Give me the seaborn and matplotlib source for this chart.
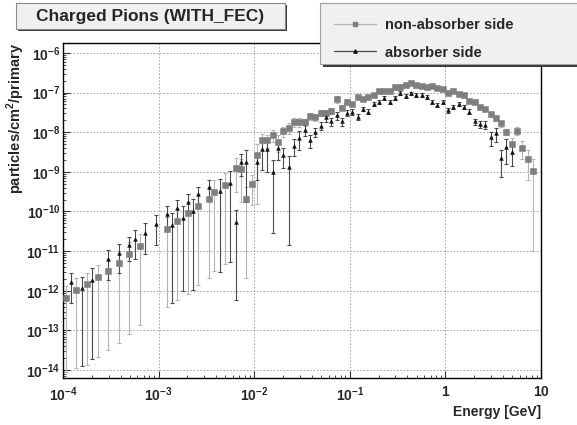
import numpy as np
import pandas as pd
import matplotlib
matplotlib.use("Agg")
import matplotlib.pyplot as plt
import matplotlib.ticker as mticker
from matplotlib.lines import Line2D
from matplotlib.patches import Rectangle
import seaborn as sns

nan = np.nan

# histogram binning: 90 log bins from 1e-4 to 10 GeV (18 per decade)
n_bins = 90
e_edges = np.logspace(-4, 1, n_bins + 1)
e_centers = np.sqrt(e_edges[:-1] * e_edges[1:])

# log10(particles/cm2/primary) per bin, nan = empty bin
nonabs_log = [
    -12.19, nan, -11.98, nan, -11.84, nan, -11.65, nan, -11.50, nan,
    -11.30, nan, -11.06, nan, -10.87, nan, nan, nan, nan, -10.43,
    nan, -10.24, nan, -10.05, nan, -9.86, nan, -9.69, -9.50, nan,
    -9.33, nan, -8.90, -8.94, -9.69, -9.31, -8.58, -8.20, -8.20, -8.07,
    -8.24, -7.97, -7.89, -7.75, -7.75, -7.75, -7.59, -7.62, -7.51, -7.52,
    -7.46, -7.17, -7.38, -7.23, -7.29, -7.12, -7.17, -7.12, -7.06, -6.95,
    -6.95, -6.95, -6.87, -6.87, -6.81, -6.77, -6.81, -6.83, -6.87, -6.83,
    -6.89, -6.92, -7.00, -6.97, -7.04, -7.06, -7.21, -7.25, -7.36, -7.41,
    -7.55, -7.65, -7.78, -7.99, -8.30, -7.96, -8.39, -8.68, -8.98, nan,
]
# lower end of the error bar (log10)
nonabs_low_log = [
    -14.05, nan, -13.95, nan, -13.88, nan, -13.67, nan, -13.50, nan,
    -13.31, nan, -13.08, nan, -12.87, nan, nan, nan, nan, -12.40,
    nan, -12.24, nan, -12.07, nan, -11.86, nan, -11.69, -11.50, nan,
    -11.33, nan, -9.50, -9.75, -11.68, -9.84, -9.81, -8.45, -8.40, -8.25,
    -8.50, -8.12, -8.05, -7.88, -7.88, -7.85, -7.68, -7.72, -7.60, -7.60,
    -7.53, -7.27, -7.45, -7.30, -7.35, -7.17, -7.22, -7.16, -7.10, -6.99,
    -6.99, -6.99, -6.91, -6.91, -6.85, -6.81, -6.85, -6.87, -6.91, -6.87,
    -6.93, -6.96, -7.04, -7.01, -7.08, -7.10, -7.26, -7.30, -7.41, -7.46,
    -7.61, -7.72, -7.86, -8.08, -8.55, -8.07, -8.68, -9.20, -11.00, nan,
]

abs_log = [
    nan, -11.79, nan, -11.94, nan, -11.73, nan, nan, -11.21, nan,
    -11.04, nan, -10.85, -10.70, nan, -10.53, nan, -10.32, nan, -10.07,
    -10.33, -9.92, -10.17, -9.75, -9.98, -9.56, nan, -9.39, nan, -9.48,
    nan, -9.27, -10.26, -8.74, -8.74, nan, -8.74, -8.43, -8.43, -9.00,
    -8.41, -8.58, -8.89, -8.34, -8.15, -7.94, -8.20, -7.99, -7.84, -7.62,
    -7.73, -7.57, -7.73, -7.52, -7.48, -7.61, -7.41, -7.48, -7.29, -7.23,
    -7.14, -7.23, -7.14, -7.00, -7.09, -7.02, -7.06, -7.06, -7.10, -7.23,
    -7.31, -7.23, -7.44, -7.36, -7.29, -7.36, -7.48, -7.73, -7.80, -7.81,
    -8.13, -8.03, -8.66, -8.38, -8.49, nan, nan, nan, nan, nan,
]
abs_low_log = [
    nan, -12.31, nan, -13.90, nan, -13.73, nan, nan, -11.73, nan,
    -11.56, nan, -11.26, -11.21, nan, -11.06, nan, -10.85, nan, -10.47,
    -12.30, -10.30, -12.00, -10.10, -11.98, -9.90, nan, -9.70, nan, -11.52,
    nan, -11.27, -12.24, -9.10, -9.75, nan, -9.20, -8.95, -9.00, -10.54,
    -8.70, -8.90, -10.85, -8.60, -8.45, -8.10, -8.40, -8.12, -7.95, -7.75,
    -7.85, -7.68, -7.85, -7.60, -7.56, -7.70, -7.47, -7.54, -7.35, -7.29,
    -7.19, -7.28, -7.19, -7.05, -7.14, -7.07, -7.11, -7.11, -7.15, -7.29,
    -7.37, -7.29, -7.51, -7.42, -7.35, -7.42, -7.55, -7.82, -7.90, -7.91,
    -8.35, -8.25, -9.12, -8.79, -8.85, nan, nan, nan, nan, nan,
]

x_ticks = [1e-4, 1e-3, 1e-2, 1e-1, 1, 10]
x_labels = ['10^{-4}', '10^{-3}', '10^{-2}', '10^{-1}', '1', '10']
y_ticks = [1e-6, 1e-7, 1e-8, 1e-9, 1e-10, 1e-11, 1e-12, 1e-13, 1e-14]
y_labels = ['10^{-6}', '10^{-7}', '10^{-8}', '10^{-9}', '10^{-10}',
            '10^{-11}', '10^{-12}', '10^{-13}', '10^{-14}']

rows = []
for name, vals, lows in [('non-absorber side', nonabs_log, nonabs_low_log),
                         ('absorber side', abs_log, abs_low_log)]:
    for e, v, lo in zip(e_centers, vals, lows):
        if np.isnan(v):
            continue
        flux = 10 ** v
        rows.append({'Energy': e, 'flux': flux, 'err': flux - 10 ** lo, 'side': name})
df = pd.DataFrame(rows)

sns.set_theme(style='white')
plt.rcParams['font.family'] = ['Liberation Sans', 'DejaVu Sans']
plt.rcParams['mathtext.fontset'] = 'custom'
plt.rcParams['mathtext.rm'] = 'Liberation Sans'
plt.rcParams['mathtext.bf'] = 'Liberation Sans:bold'

fig = plt.figure(figsize=(5.77, 4.25), dpi=100)
fig.patch.set_facecolor('white')
ax = fig.add_axes([63 / 577, 47 / 425, 478 / 577, 335 / 425])
ax.set_xscale('log')
ax.set_yscale('log')
ax.set_xlim(1e-4, 10)
ax.set_ylim(10 ** -14.2, 10 ** -5.75)

styles = {
    'non-absorber side': dict(marker='s', color='#7f7f7f', ecolor='#b5b5b5', size=16),
    'absorber side': dict(marker='^', color='#111111', ecolor='#4a4a4a', size=7),
}
for name, st in styles.items():
    sub = df[df['side'] == name]
    ax.errorbar(sub['Energy'], sub['flux'], yerr=sub['err'], fmt='none',
                ecolor=st['ecolor'], elinewidth=0.8, capsize=1.6, capthick=0.8, zorder=2)
    sns.scatterplot(data=sub, x='Energy', y='flux', marker=st['marker'], color=st['color'],
                    s=st['size'], edgecolor=st['color'], linewidth=0.4, ax=ax, zorder=3,
                    legend=False)

ax.set_xlabel('')
ax.set_ylabel('')
ax.xaxis.set_major_locator(mticker.FixedLocator(x_ticks))
ax.xaxis.set_major_formatter(mticker.FixedFormatter(['$\\mathbf{%s}$' % t for t in x_labels]))
ax.xaxis.set_minor_locator(mticker.LogLocator(base=10, subs=np.arange(2, 10), numticks=20))
ax.xaxis.set_minor_formatter(mticker.NullFormatter())
ax.yaxis.set_major_locator(mticker.FixedLocator(y_ticks))
ax.yaxis.set_major_formatter(mticker.FixedFormatter(['$\\mathbf{%s}$' % t for t in y_labels]))
ax.yaxis.set_minor_locator(mticker.LogLocator(base=10, subs=np.arange(2, 10), numticks=20))
ax.yaxis.set_minor_formatter(mticker.NullFormatter())

ax.tick_params(axis='both', which='major', direction='in', length=5, width=0.8,
               color='#333333', labelsize=10)
ax.tick_params(axis='both', which='minor', direction='in', length=2.5, width=0.6,
               color='#333333')
ax.tick_params(axis='x', which='both', bottom=True, top=False, pad=5)
ax.tick_params(axis='y', which='both', left=True, right=False, pad=2)

ax.grid(True, which='major', linestyle=(0, (2, 2)), color='#9a9a9a', linewidth=0.6)
for sp in ax.spines.values():
    sp.set_visible(True)
    sp.set_color('black')
    sp.set_linewidth(1.0)

fig.text(16 / 577, 1 - 43 / 425, 'particles/cm$^{\\mathbf{2}}$/primary', rotation=90,
         ha='center', va='top', fontsize=10.5, fontweight='bold')
fig.text(541 / 577, 1 - 412 / 425, 'Energy [GeV]', ha='right', va='center',
         fontsize=10, fontweight='bold')

# title box with shadow
fig.patches.append(Rectangle((18 / 577, 1 - 31 / 425), 269 / 577, 26 / 425,
                             transform=fig.transFigure, facecolor='#3a3a3a',
                             edgecolor='none', zorder=5))
fig.patches.append(Rectangle((16 / 577, 1 - 29 / 425), 269 / 577, 26 / 425,
                             transform=fig.transFigure, facecolor='#f0f0f0',
                             edgecolor='#8a8a8a', linewidth=0.8, zorder=6))
fig.text(150 / 577, 1 - 16 / 425, 'Charged Pions (WITH_FEC)', ha='center', va='center',
         fontsize=12.5, fontweight='bold', zorder=7)

# legend box with shadow
fig.patches.append(Rectangle((323 / 577, 1 - 67 / 425), 260 / 577, 63 / 425,
                             transform=fig.transFigure, facecolor='#3a3a3a',
                             edgecolor='none', zorder=5))
fig.patches.append(Rectangle((320 / 577, 1 - 64 / 425), 262 / 577, 61 / 425,
                             transform=fig.transFigure, facecolor='#f0f0f0',
                             edgecolor='#a0a0a0', linewidth=0.8, zorder=6))
handles = [
    Line2D([], [], color='#b5b5b5', lw=0.9, marker='s', markersize=2.6,
           markerfacecolor='#7f7f7f', markeredgecolor='#7f7f7f'),
    Line2D([], [], color='#4a4a4a', lw=0.9, marker='^', markersize=2.4,
           markerfacecolor='#111111', markeredgecolor='#111111'),
]
leg = fig.legend(handles, list(styles.keys()), loc='upper left',
                 bbox_to_anchor=(322 / 577, 1 - 6 / 425), frameon=False,
                 prop={'weight': 'bold', 'size': 10.5}, handlelength=2.9,
                 handletextpad=0.6, labelspacing=0.95, borderpad=0.3)
leg.set_zorder(8)

fig.savefig('out.png', dpi=100)
